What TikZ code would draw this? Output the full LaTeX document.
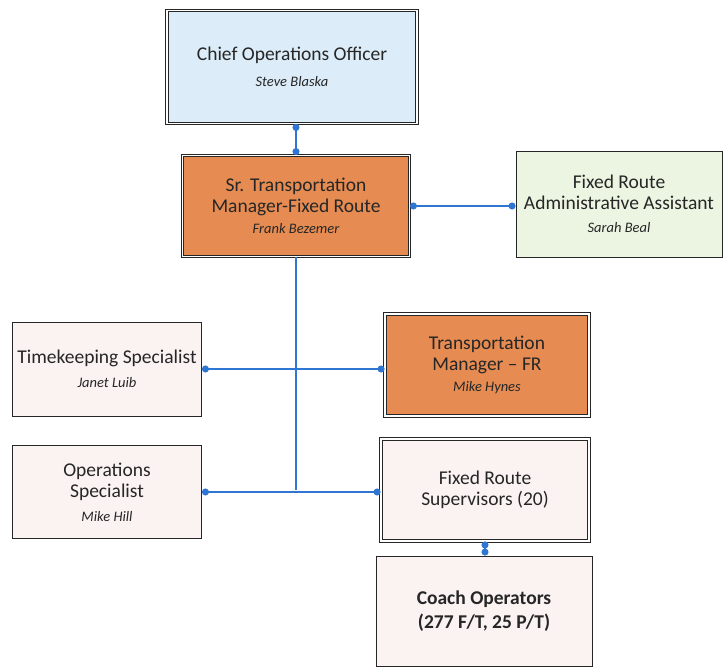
\documentclass[tikz,border=0pt]{standalone}
\usepackage{fontspec}
\setmainfont{Carlito}
\usetikzlibrary{arrows.meta}

\definecolor{cooblue}{HTML}{DCECF8}
\definecolor{mgrorange}{HTML}{E68C52}
\definecolor{asstgreen}{HTML}{EBF5E2}
\definecolor{staffpink}{HTML}{FBF2F2}
\definecolor{linkblue}{HTML}{2F76D2}

\newcommand{\staffname}[1]{{\fontsize{14.5}{17}\selectfont\itshape #1}}

\tikzset{
	post/.style={rectangle, draw=black!85, line width=0.9pt, align=center, inner sep=2pt, text=black!85, font=\fontsize{19.5}{21}\selectfont},
	dbl/.style={post, double=white, double distance=1.6pt, line width=0.9pt},
	link/.style={linkblue, line width=1.4pt, {Circle[length=7pt]}-{Circle[length=7pt]}},
	plain/.style={linkblue, line width=1.4pt}
}

\begin{document}
\begin{tikzpicture}[x=1pt,y=-1pt]
		\useasboundingbox (0,0) rectangle (724,668);

		\draw (292,67) node (coo) [dbl, fill=cooblue, minimum width=250, minimum height=113] {Chief Operations Officer\\[5pt]\staffname{Steve Blaska}};
		\draw (296,206) node (srtm) [dbl, fill=mgrorange, minimum width=227, minimum height=101] {Sr. Transportation\\Manager-Fixed Route\\\staffname{Frank Bezemer}};
		\draw (619,204) node (asst) [post, fill=asstgreen, minimum width=206, minimum height=106] {Fixed Route\\Administrative Assistant\\[2pt]\staffname{Sarah Beal}};

		\draw (107,369) node (tk) [post, fill=staffpink, minimum width=189, minimum height=94] {Timekeeping Specialist\\[3pt]\staffname{Janet Luib}};
		\draw (487,365) node (tmfr) [dbl, fill=mgrorange, minimum width=204, minimum height=102] {Transportation\\Manager -- FR\\\staffname{Mike Hynes}};

		\draw (107,492) node (ops) [post, fill=staffpink, minimum width=189, minimum height=93] {Operations\\Specialist\\[3pt]\staffname{Mike Hill}};
		\draw (485,490) node (sup) [dbl, fill=staffpink, minimum width=208, minimum height=102] {Fixed Route\\Supervisors (20)};
		\draw (484,611) node (coach) [post, fill=staffpink, minimum width=216, minimum height=110, font=\fontsize{19.5}{24}\selectfont\bfseries] {Coach Operators\\(277 F/T, 25 P/T)};

		\coordinate (fork) at (srtm.south |- sup.west);

		\draw[link] (srtm.north) -- (srtm.north |- coo.south);
		\draw[link] (srtm.east) -- (asst.west |- srtm.east);
		\draw[plain] (srtm.south) -- (fork);
		\draw[link] (tk.east) -- (tk.east -| tmfr.west);
		\draw[link] (ops.east) -- (ops.east -| sup.west);
		\draw[link] (coach.north -| sup.south) -- (sup.south);
	\end{tikzpicture}
\end{document}
